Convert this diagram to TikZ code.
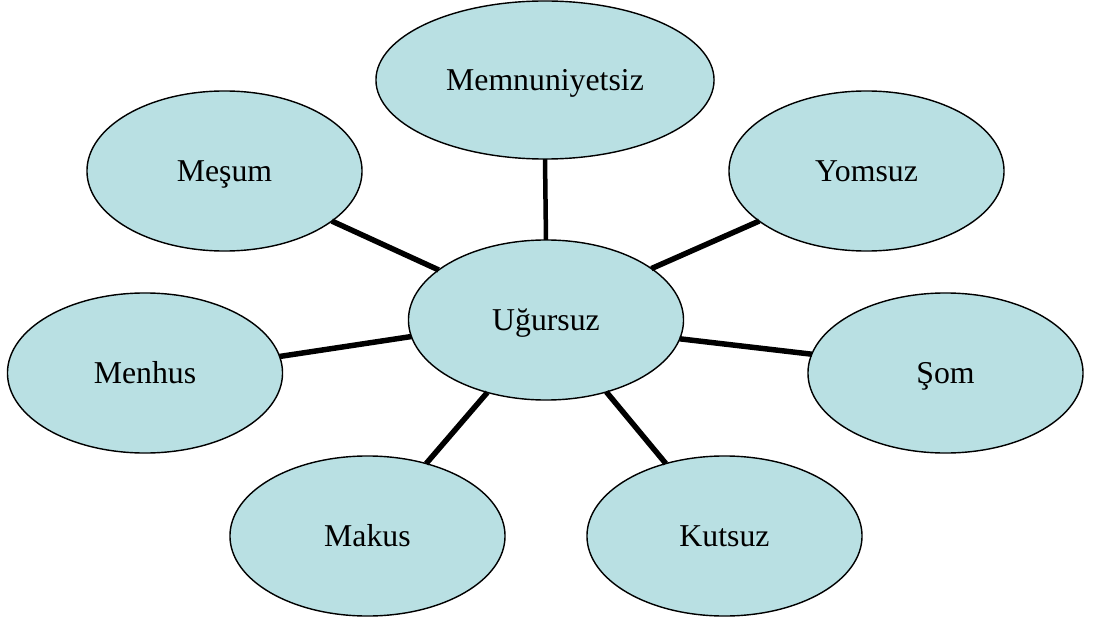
\documentclass[tikz,border=0pt]{standalone}
\usepackage{fontspec}
\setmainfont{Liberation Serif}
\usetikzlibrary{shapes.geometric}
\definecolor{bubble}{RGB}{185,224,227}
\tikzset{
  bub/.style={ellipse, draw=black, line width=1pt, fill=bubble, inner sep=0pt, outer sep=0pt,
    minimum width=6.875cm, minimum height=4cm, text height=15pt, text depth=0pt,
    font=\fontsize{22.6}{26}\selectfont},
  link/.style={line width=3.9pt, draw=black}
}
\begin{document}
\begin{tikzpicture}[x=0.025cm, y=-0.025cm]
\useasboundingbox (0,0) rectangle (1094,624);
\node[bub, minimum width=8.45cm, minimum height=3.95cm] (memn) at (545,80) {Memnuniyetsiz};
\node[bub] (mesum) at (224.5,171) {Meşum};
\node[bub] (yomsuz) at (866.5,171) {Yomsuz};
\node[bub] (ugur) at (546,320) {Uğursuz};
\node[bub] (menhus) at (145,373) {Menhus};
\node[bub] (som) at (945.5,373) {Şom};
\node[bub] (makus) at (367.5,536) {Makus};
\node[bub] (kutsuz) at (724.5,536) {Kutsuz};
\draw[link, line width=3.2pt] (memn.270) -- (ugur.90);
\draw[link] (mesum.-25) -- (ugur.155);
\draw[link] (yomsuz.205) -- (ugur.26);
\draw[link] (menhus.7.6) -- (ugur.187);
\draw[link] (som.172.3) -- (ugur.352);
\draw[link] (makus.51) -- (ugur.231);
\draw[link] (kutsuz.129.7) -- (ugur.310);
\end{tikzpicture}
\end{document}
